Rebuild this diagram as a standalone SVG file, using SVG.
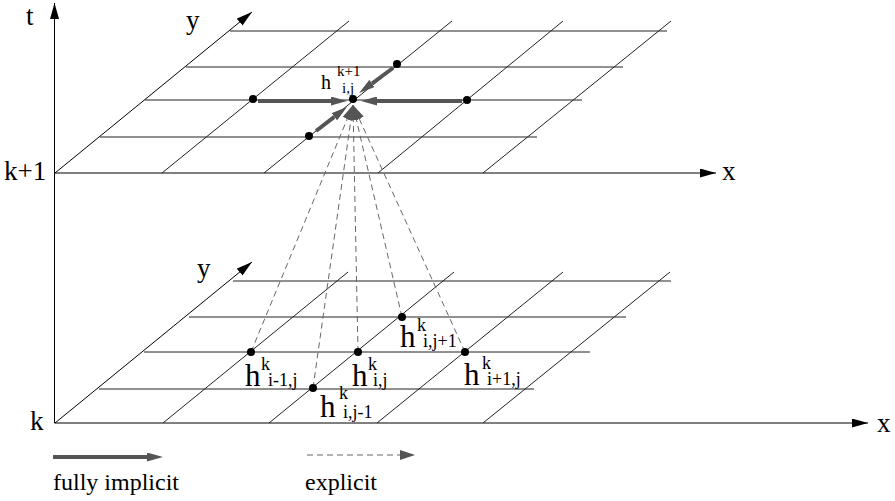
<svg xmlns="http://www.w3.org/2000/svg" width="895" height="501" viewBox="0 0 895 501">
  <defs>
    <marker id="axhead" markerUnits="userSpaceOnUse" markerWidth="16" markerHeight="9" refX="16" refY="4.5" orient="auto">
      <path d="M0,0 L16,4.5 L0,9 z" fill="#000"/>
    </marker>
    <marker id="implhead" markerUnits="userSpaceOnUse" markerWidth="16" markerHeight="9" refX="0" refY="4.5" orient="auto">
      <path d="M0,0 L16,4.5 L0,9 z" fill="#555"/>
    </marker>
    <marker id="explhead" markerUnits="userSpaceOnUse" markerWidth="15" markerHeight="10" refX="15" refY="5" orient="auto">
      <path d="M0,0 L15,5 L0,10 z" fill="#555"/>
    </marker>
  </defs>
  <style>
    .ax { stroke: #000; stroke-width: 1; fill: none; }
    .grid { stroke: #222; stroke-width: 1; fill: none; }
    .impl { stroke: #555; stroke-width: 4; fill: none; marker-end: url(#implhead); }
    .expl { stroke: #666; stroke-width: 1; stroke-dasharray: 6 4; fill: none; marker-end: url(#explhead); }
    .dot { fill: #000; }
    text { font-family: "Liberation Serif", "Times New Roman", serif; fill: #000; }
    .lab { font-size: 27px; }
    .leg { font-size: 24px; }
    .hb { font-size: 31px; }
    .sb { font-size: 18px; }
    .ht { font-size: 20px; }
    .st { font-size: 15px; }
  </style>

  <g id="axes">
    <line class="ax" x1="54.5" y1="423" x2="54.5" y2="3" marker-end="url(#axhead)"/>
    <line class="ax" x1="54.5" y1="173" x2="716" y2="173" marker-end="url(#axhead)"/>
    <line class="ax" x1="54.5" y1="423" x2="868" y2="423" marker-end="url(#axhead)"/>
    <line class="ax" x1="55" y1="173" x2="252" y2="12" marker-end="url(#axhead)"/>
    <line class="ax" x1="55" y1="423" x2="252" y2="262" marker-end="url(#axhead)"/>
    <text class="lab" x="26" y="25">t</text>
    <text class="lab" x="4" y="180">k+1</text>
    <text class="lab" x="30" y="430">k</text>
    <text class="lab" x="186" y="29">y</text>
    <text class="lab" x="197" y="277">y</text>
    <text class="lab" x="722" y="180">x</text>
    <text class="lab" x="877" y="432">x</text>
  </g>

  <g id="grid-top">
    <line class="grid" x1="162" y1="173" x2="349" y2="21"/>
    <line class="grid" x1="264" y1="173" x2="452" y2="21"/>
    <line class="grid" x1="378" y1="173" x2="563" y2="21"/>
    <line class="grid" x1="483" y1="173" x2="671" y2="21"/>
    <line class="grid" x1="100" y1="137" x2="537" y2="137"/>
    <line class="grid" x1="145" y1="100" x2="582" y2="100"/>
    <line class="grid" x1="186" y1="67" x2="623" y2="67"/>
    <line class="grid" x1="230" y1="31" x2="667" y2="31"/>
  </g>

  <g id="grid-bottom">
    <line class="grid" x1="163" y1="423" x2="348" y2="272"/>
    <line class="grid" x1="269" y1="423" x2="454" y2="272"/>
    <line class="grid" x1="377" y1="423" x2="563" y2="272"/>
    <line class="grid" x1="483" y1="423" x2="670" y2="272"/>
    <line class="grid" x1="99" y1="389" x2="534" y2="389"/>
    <line class="grid" x1="144" y1="352" x2="590" y2="352"/>
    <line class="grid" x1="189" y1="317" x2="626" y2="317"/>
    <line class="grid" x1="233" y1="281" x2="671" y2="281"/>
  </g>

  <g id="connectors">
    <line class="impl" x1="258" y1="101" x2="331" y2="101"/>
    <line class="impl" x1="462" y1="101" x2="377" y2="101"/>
    <line class="impl" x1="393" y1="68" x2="372" y2="83.5"/>
    <line class="impl" x1="316" y1="131" x2="334.3" y2="116.8"/>
    <line class="expl" x1="251" y1="352" x2="353" y2="105"/>
    <line class="expl" x1="358" y1="352" x2="353" y2="105"/>
    <line class="expl" x1="465" y1="352" x2="353" y2="105"/>
    <line class="expl" x1="402" y1="317" x2="353" y2="105"/>
    <line class="expl" x1="313" y1="388" x2="353" y2="105"/>
  </g>

  <g id="node-top-center">
    <circle class="dot" cx="353" cy="99" r="4"/>
    <text class="ht" x="321" y="89">h</text>
    <text class="st" x="337" y="76">k+1</text>
    <text class="st" x="342" y="93">i,j</text>
  </g>
  <g id="node-top-left"><circle class="dot" cx="253" cy="99" r="4"/></g>
  <g id="node-top-right"><circle class="dot" cx="467" cy="100" r="4"/></g>
  <g id="node-top-up"><circle class="dot" cx="397" cy="64" r="4"/></g>
  <g id="node-top-down"><circle class="dot" cx="309" cy="136" r="4"/></g>

  <g id="node-im1j">
    <circle class="dot" cx="251" cy="352" r="4"/>
    <text class="hb" x="245" y="386">h</text>
    <text class="sb" x="261" y="370">k</text>
    <text class="sb" x="268" y="386">i-1,j</text>
  </g>
  <g id="node-ij">
    <circle class="dot" cx="358" cy="352" r="4"/>
    <text class="hb" x="352" y="386">h</text>
    <text class="sb" x="368" y="370">k</text>
    <text class="sb" x="373" y="386">i,j</text>
  </g>
  <g id="node-ip1j">
    <circle class="dot" cx="465" cy="352" r="4"/>
    <text class="hb" x="464" y="385">h</text>
    <text class="sb" x="482" y="369">k</text>
    <text class="sb" x="487" y="385">i+1,j</text>
  </g>
  <g id="node-ijp1">
    <circle class="dot" cx="402" cy="317" r="4"/>
    <text class="hb" x="400" y="347">h</text>
    <text class="sb" x="417" y="331">k</text>
    <text class="sb" x="423" y="347">i,j+1</text>
  </g>
  <g id="node-ijm1">
    <circle class="dot" cx="313" cy="388" r="4"/>
    <text class="hb" x="320" y="417">h</text>
    <text class="sb" x="339" y="399">k</text>
    <text class="sb" x="343" y="418">i,j-1</text>
  </g>

  <g id="legend">
    <line class="impl" x1="53" y1="457" x2="147" y2="457"/>
    <line class="expl" x1="307" y1="455" x2="415" y2="455"/>
    <text class="leg" x="53" y="490">fully implicit</text>
    <text class="leg" x="305" y="490">explicit</text>
  </g>
</svg>
